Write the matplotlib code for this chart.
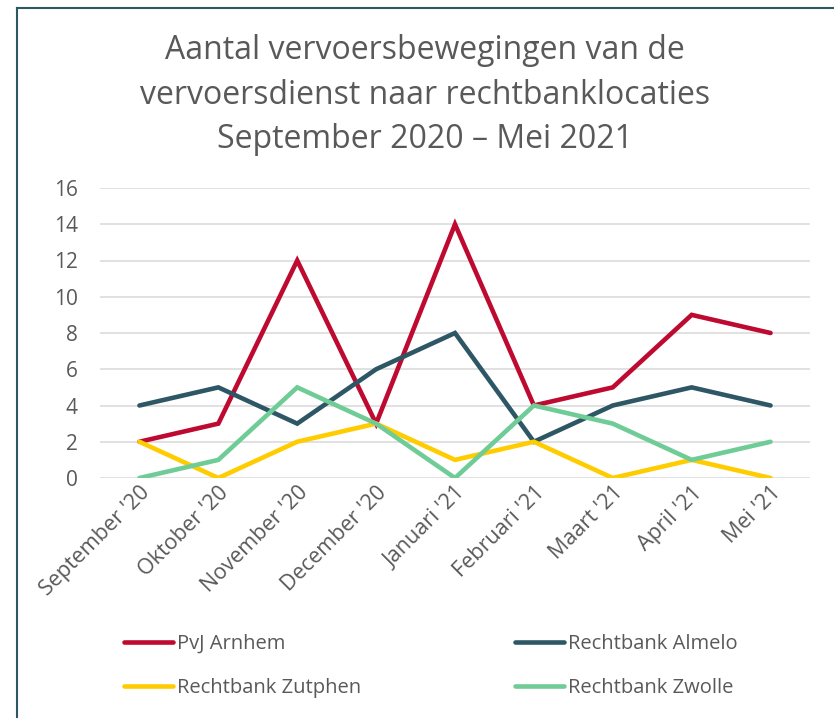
import matplotlib.pyplot as plt
from matplotlib.lines import Line2D

plt.rcParams['font.family'] = ['Open Sans', 'DejaVu Sans']

# data
months = ["September '20", "Oktober '20", "November '20", "December '20",
          "Januari '21", "Februari '21", "Maart '21", "April '21", "Mei '21"]
arnhem = [2, 3, 12, 3, 14, 4, 5, 9, 8]
almelo = [4, 5, 3, 6, 8, 2, 4, 5, 4]
zutphen = [2, 0, 2, 3, 1, 2, 0, 1, 0]
zwolle = [0, 1, 5, 3, 0, 4, 3, 1, 2]

series = [("PvJ Arnhem", arnhem, '#BE0A30'),
          ("Rechtbank Almelo", almelo, '#2E5766'),
          ("Rechtbank Zutphen", zutphen, '#FFCC00'),
          ("Rechtbank Zwolle", zwolle, '#70CC96')]

txt = '#595959'
W, H = 834, 718
fig = plt.figure(figsize=(W / 100, H / 100), dpi=100)

# axes placed in pixel terms
left, right, top, bottom = 100, 810, 188, 478
ax = fig.add_axes([left / W, 1 - bottom / H, (right - left) / W, (bottom - top) / H])

x = list(range(len(months)))
lines = []
for name, vals, col in series:
    ln, = ax.plot(x, vals, color=col, lw=3.3, label=name,
                  solid_capstyle='round', solid_joinstyle='miter', zorder=3)
    lines.append(ln)

ax.set_xlim(-0.5, len(months) - 0.5)
ax.set_ylim(0, 16)
ax.set_yticks(range(0, 17, 2))
ax.yaxis.grid(True, color='#D9D9D9', lw=1.1, zorder=0)
ax.set_axisbelow(True)
for s in ax.spines.values():
    s.set_visible(False)
ax.tick_params(axis='y', length=0, pad=16, labelsize=15, labelcolor=txt)
ax.tick_params(axis='x', length=0, pad=3, labelsize=15.5, labelcolor=txt)
ax.set_xticks(x)
ax.set_xticklabels(months, rotation=45, ha='right', va='top', rotation_mode='anchor')

fig.text(0.51, 1 - 95 / H,
         "Aantal vervoersbewegingen van de\nvervoersdienst naar rechtbanklocaties\nSeptember 2020 \u2013 Mei 2021",
         ha='center', va='center', fontsize=23, color=txt, linespacing=1.45)

# legend is filled row by row in the reference
order = [0, 2, 1, 3]
leg = fig.legend([lines[i] for i in order], [series[i][0] for i in order],
                 loc='upper left', bbox_to_anchor=(124 / W, 1 - 634 / H), ncol=2,
                 frameon=False, fontsize=14.5, handlelength=2.45, handletextpad=0.2,
                 columnspacing=7.6, labelspacing=1.2, borderpad=0, borderaxespad=0)
for t in leg.get_texts():
    t.set_color(txt)

# frame around the chart (only top and left visible in the crop)
fig.add_artist(Line2D([17 / W, 17 / W], [0, 1 - 8 / H], color='#2E5766', lw=1.5))
fig.add_artist(Line2D([17 / W, 1], [1 - 8 / H, 1 - 8 / H], color='#2E5766', lw=1.5))

fig.savefig('out.png', dpi=100)
